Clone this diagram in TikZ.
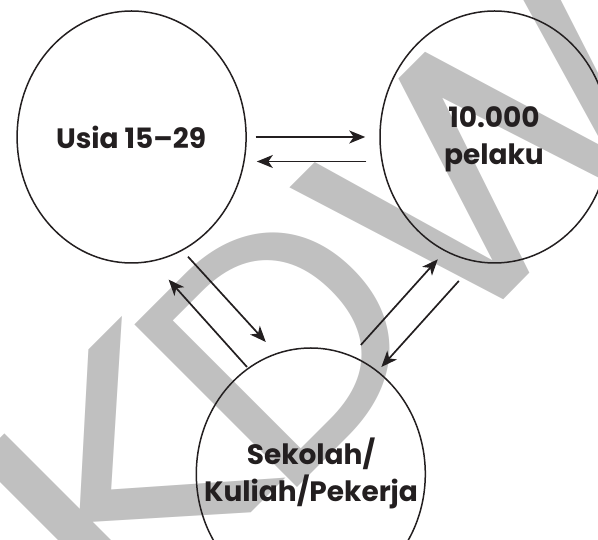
\documentclass[tikz,border=0pt]{standalone}
\usepackage{fontspec}
\usetikzlibrary{shapes.geometric,arrows.meta,calc}
\newfontfamily\lblfont{Poppins}
\newfontfamily\wmfont{Poppins}
\definecolor{ink}{RGB}{35,31,32}
\definecolor{wmgray}{RGB}{192,192,192}
\begin{document}
\begin{tikzpicture}[x=1pt,y=1pt,
  ring/.style={ellipse, draw=ink, line width=1.5pt, minimum width=229pt, minimum height=252pt, inner sep=0pt},
  lbl/.style={font=\lblfont\bfseries\fontsize{28}{37}\selectfont, text=ink, align=center, inner sep=0pt},
  arr/.style={draw=ink, line width=1.7pt, -{Stealth[length=16pt,width=13pt,inset=4.5pt]}},
  wm/.style={font=\wmfont\fontsize{330}{330}\selectfont, text=wmgray, rotate=45, anchor=base west, inner sep=0pt}
]
\useasboundingbox (0,0) rectangle (598,540);
\clip (0,0) rectangle (598,540);

% background watermark letters
\node[wm, xscale=1.25] (wk) at (118,-106) {K};
\node[wm] (wd) at (279.6,34.6) {D};
\node[wm, xscale=1.12] (ww) at (446.5,183) {W};

% the three groups
\node[ring] (u) at (131.6,403) {};
\node[ring] (p) at (494.5,403) {};
\node[ring] (s) at (310.8,66) {};

\node[lbl] (ut) at (131,402.5) {Usia 15–29};
\node[lbl] (pt) at (494,400.6) {10.000\\pelaku};
\node[lbl] (st) at (311,66.7) {Sekolah/\\Kuliah/Pekerja};

% horizontal pair
\draw[arr, shorten <=8.7pt, shorten >=14pt] (u.east) -- (p.west);
\draw[arr, shorten <=13pt, shorten >=10pt] ([yshift=-24.5pt]p.west) -- ([yshift=-24.5pt]u.east);

% diagonal end points
\coordinate (us1) at ($(u.center)+(56.4,-119.7)$);
\coordinate (us2) at ($(s.center)+(-45,132)$);
\coordinate (su1) at ($(s.center)+(-63.8,107)$);
\coordinate (su2) at ($(u.center)+(37,-142.6)$);
\coordinate (sp1) at ($(s.center)+(50,129)$);
\coordinate (sp2) at ($(p.center)+(-56.7,-122.3)$);
\coordinate (ps1) at ($(p.center)+(-35.7,-144)$);
\coordinate (ps2) at ($(s.center)+(70.6,107)$);

\draw[arr] (us1) -- (us2);
\draw[arr] (su1) -- (su2);
\draw[arr] (sp1) -- (sp2);
\draw[arr] (ps1) -- (ps2);
\end{tikzpicture}
\end{document}
